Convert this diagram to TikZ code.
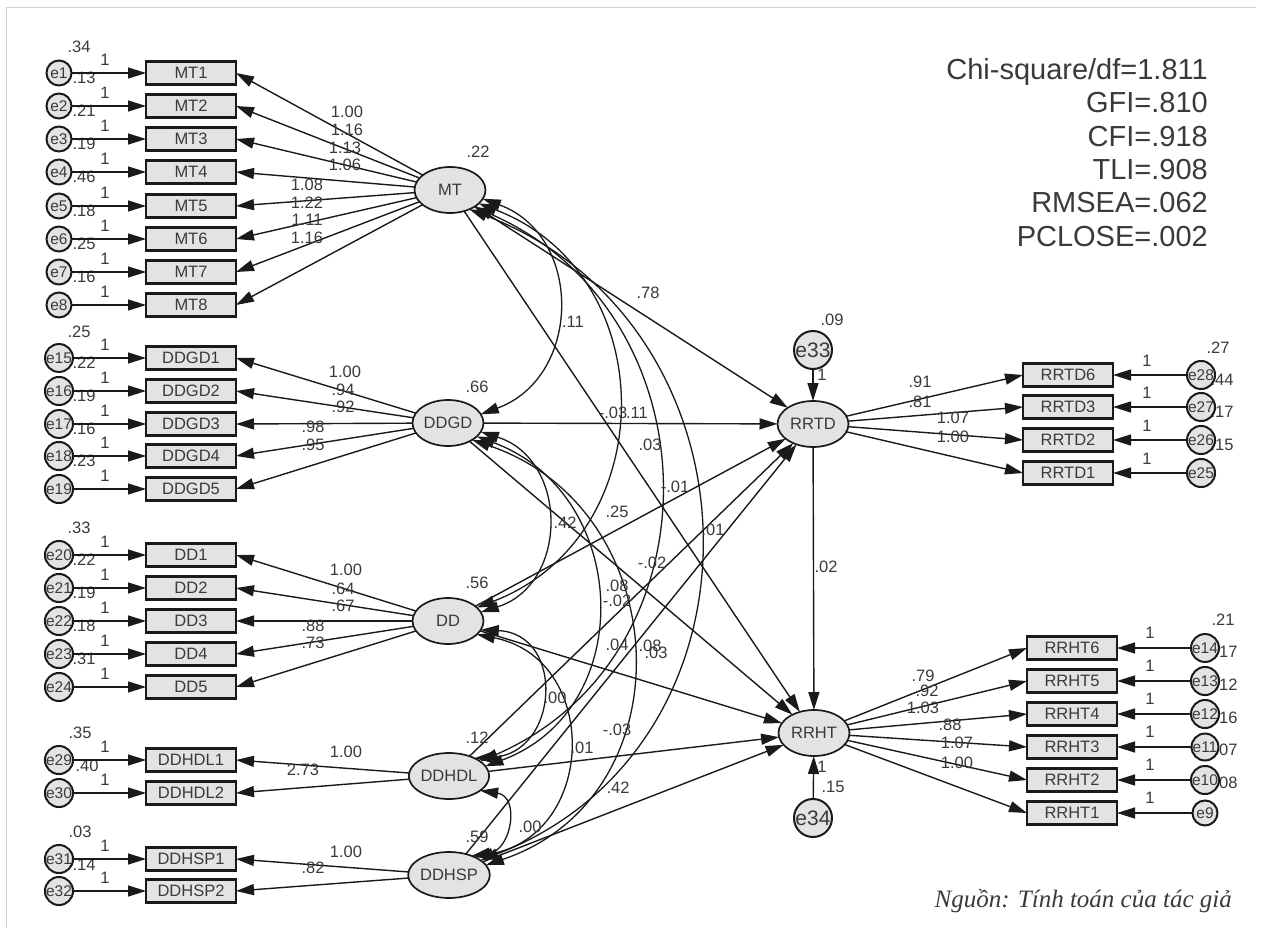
\documentclass[tikz,border=0pt]{standalone}
\usepackage{fontspec}
\setmainfont{Liberation Sans}
\newfontfamily\capfont{Liberation Serif}
\usetikzlibrary{arrows.meta,shapes.geometric}
\definecolor{ink}{HTML}{1A1A1A}
\definecolor{txt}{HTML}{3A3A3A}
\definecolor{boxfill}{HTML}{E3E3E3}
\definecolor{framegray}{HTML}{CFCFCF}
\tikzset{
  >={Triangle[length=18pt,width=11pt]},
  arr/.style={draw=ink, line width=1.4pt, ->},
  cov/.style={draw=ink, line width=1.3pt, <->},
  obs/.style={draw=ink, line width=2.2pt, fill=boxfill, minimum width=90pt,
    minimum height=23pt, inner sep=0pt, outer sep=0pt, text=txt,
    font=\fontsize{16.5}{16.5}\selectfont},
  lat/.style={ellipse, draw=ink, line width=1.7pt, fill=boxfill,
    minimum width=71pt, minimum height=46pt, inner sep=0pt, outer sep=0pt,
    text=txt, font=\fontsize{16.5}{16.5}\selectfont},
  err/.style={circle, draw=ink, line width=2pt, fill=boxfill,
    minimum size=25pt, inner sep=0pt, outer sep=0pt, text=txt,
    font=\fontsize{15.5}{15.5}\selectfont},
  bigerr/.style={err, minimum size=34pt, font=\fontsize{21}{21}\selectfont},
  num/.style={text=txt, font=\fontsize{16.5}{16.5}\selectfont, inner sep=0pt},
  fit/.style={text=txt, font=\fontsize{29}{29}\selectfont, inner sep=0pt, anchor=base east},
}
\begin{document}
\begin{tikzpicture}[x=1pt, y=-1pt]
\useasboundingbox (0,0) rectangle (1267,928);
\fill[white] (0,0) rectangle (1267,928);
\draw[framegray, line width=1pt] (6,940) -- (6,8) -- (1256,8);

% ---------- latent variables ----------
\node[lat] (MT)    at (450,190) {MT};
\node[lat] (DDGD)  at (448,423) {DDGD};
\node[lat] (DD)    at (448,621) {DD};
\node[lat] (DDHDL) at (449,776) {DDHDL};
\node[lat] (DDHSP) at (449,875) {DDHSP};
\node[lat] (RRTD)  at (813,424) {RRTD};
\node[lat] (RRHT)  at (814,733) {RRHT};

% ---------- error variances (drawn beneath the error circles) ----------
\node[num] at (79,47) {.34};
\foreach \v/\yy in {.13/78,.21/111,.19/144,.46/177,.18/211,.25/244,.16/277}
  \node[num] at (84,\yy) {\v};
\node[num] at (79,332) {.25};
\foreach \v/\yy in {.22/363,.19/396,.16/429,.23/461}
  \node[num] at (84,\yy) {\v};
\node[num] at (79,528) {.33};
\foreach \v/\yy in {.22/560,.19/593,.18/626,.31/659}
  \node[num] at (84,\yy) {\v};
\node[num] at (80,733) {.35};
\node[num] at (87,766) {.40};
\node[num] at (80,832) {.03};
\node[num] at (84,865) {.14};
\node[num] at (1218,348) {.27};
\foreach \v/\yy in {.44/380,.17/412,.15/445}
  \node[num] at (1222,\yy) {\v};
\node[num] at (1223,620) {.21};
\foreach \v/\yy in {.17/652,.12/685,.16/718,.07/750,.08/783}
  \node[num] at (1226,\yy) {\v};

% ---------- indicators of the exogenous factors ----------
\foreach \i/\yy in {1/73,2/106,3/139,4/172,5/206,6/239,7/272,8/305}{
  \node[obs] (MT\i) at (191,\yy) {MT\i};
  \node[err] (e\i) at (59,\yy) {e\i};
  \draw[arr] (e\i) -- (MT\i);
  \draw[arr] (MT) -- (MT\i.east);
  \node[num] at (105,\yy-13) {1};
}
\foreach \i/\e/\yy in {1/15/358,2/16/391,3/17/424,4/18/456,5/19/489}{
  \node[obs] (DDGD\i) at (191,\yy) {DDGD\i};
  \node[err] (e\e) at (59,\yy) {e\e};
  \draw[arr] (e\e) -- (DDGD\i);
  \draw[arr] (DDGD) -- (DDGD\i.east);
  \node[num] at (105,\yy-13) {1};
}
\foreach \i/\e/\yy in {1/20/555,2/21/588,3/22/621,4/23/654,5/24/687}{
  \node[obs] (DD\i) at (191,\yy) {DD\i};
  \node[err] (e\e) at (59,\yy) {e\e};
  \draw[arr] (e\e) -- (DD\i);
  \draw[arr] (DD) -- (DD\i.east);
  \node[num] at (105,\yy-13) {1};
}
\foreach \i/\e/\yy in {1/29/760,2/30/793}{
  \node[obs] (DDHDL\i) at (191,\yy) {DDHDL\i};
  \node[err] (e\e) at (59,\yy) {e\e};
  \draw[arr] (e\e) -- (DDHDL\i);
  \draw[arr] (DDHDL) -- (DDHDL\i.east);
  \node[num] at (105,\yy-13) {1};
}
\foreach \i/\e/\yy in {1/31/859,2/32/891}{
  \node[obs] (DDHSP\i) at (191,\yy) {DDHSP\i};
  \node[err] (e\e) at (59,\yy) {e\e};
  \draw[arr] (e\e) -- (DDHSP\i);
  \draw[arr] (DDHSP) -- (DDHSP\i.east);
  \node[num] at (105,\yy-13) {1};
}

% ---------- indicators of the endogenous factors ----------
\foreach \i/\e/\yy in {6/28/375,3/27/407,2/26/440,1/25/473}{
  \node[obs] (RRTD\i) at (1068,\yy) {RRTD\i};
  \node[err] (e\e) at (1201,\yy) {e\e};
  \draw[arr] (e\e) -- (RRTD\i);
  \draw[arr] (RRTD) -- (RRTD\i.west);
  \node[num] at (1147,\yy-14) {1};
}
\foreach \i/\e/\yy in {6/14/648,5/13/681,4/12/714,3/11/747,2/10/780,1/9/813}{
  \node[obs] (RRHT\i) at (1072,\yy) {RRHT\i};
  \node[err] (e\e) at (1205,\yy) {e\e};
  \draw[arr] (e\e) -- (RRHT\i);
  \draw[arr] (RRHT) -- (RRHT\i.west);
  \node[num] at (1150,\yy-15) {1};
}

% ---------- disturbances ----------
\node[bigerr] (e33) at (813,350) {e33};
\node[bigerr] (e34) at (813,818) {e34};
\draw[arr] (e33) -- (RRTD);
\draw[arr] (e34) -- (RRHT);
\node[num] at (832,320) {.09};
\node[num] at (822,375) {1};
\node[num] at (822,767) {1};
\node[num] at (833,787) {.15};

% ---------- structural paths ----------
\foreach \s in {MT,DDGD,DD,DDHDL,DDHSP}{
  \draw[arr] (\s) -- (RRTD);
  \draw[arr] (\s) -- (RRHT);
}
\draw[arr] (RRTD) -- (RRHT);

% ---------- covariances ----------
\draw[cov] (MT.-15) .. controls +(101,37) and +(101,-37) .. (DDGD.15);
\draw[cov] (MT.-25) .. controls +(186,71) and +(186,-71) .. (DD.25);
\draw[cov] (MT.-35) .. controls +(243,106) and +(243,-106) .. (DDHDL.25);
\draw[cov] (MT.-45) .. controls +(299,115) and +(299,-115) .. (DDHSP.25);
\draw[cov] (DDGD.-15) .. controls +(88,28) and +(88,-28) .. (DD.15);
\draw[cov] (DDGD.-25) .. controls +(154,57) and +(154,-57) .. (DDHDL.15);
\draw[cov] (DDGD.-35) .. controls +(204,69) and +(204,-69) .. (DDHSP.15);
\draw[cov] (DD.-15) .. controls +(85,4) and +(85,-4) .. (DDHDL.35);
\draw[cov] (DD.-25) .. controls +(123,24) and +(123,-24) .. (DDHSP.35);
\draw[cov] (DDHDL.-25) .. controls +(40,6) and +(40,-6) .. (DDHSP.40);

% ---------- factor variances ----------
\node[num] at (478,152) {.22};
\node[num] at (477,387) {.66};
\node[num] at (477,583) {.56};
\node[num] at (477,738) {.12};
\node[num] at (477,837) {.59};

% ---------- loadings ----------
\node[num] at (347,112) {1.00};
\node[num] at (347,130) {1.16};
\node[num] at (345,148) {1.13};
\node[num] at (345,165) {1.06};
\node[num] at (307,185) {1.08};
\node[num] at (307,203) {1.22};
\node[num] at (307,220) {1.11};
\node[num] at (307,238) {1.16};
\node[num] at (345,372) {1.00};
\node[num] at (343,390) {.94};
\node[num] at (343,407) {.92};
\node[num] at (313,427) {.98};
\node[num] at (313,445) {.95};
\node[num] at (346,570) {1.00};
\node[num] at (343,589) {.64};
\node[num] at (343,606) {.67};
\node[num] at (313,626) {.88};
\node[num] at (313,643) {.73};
\node[num] at (346,752) {1.00};
\node[num] at (303,770) {2.73};
\node[num] at (346,852) {1.00};
\node[num] at (313,868) {.82};
\node[num] at (920,382) {.91};
\node[num] at (920,402) {.81};
\node[num] at (953,418) {1.07};
\node[num] at (953,437) {1.00};
\node[num] at (923,676) {.79};
\node[num] at (927,691) {.92};
\node[num] at (923,708) {1.03};
\node[num] at (950,725) {.88};
\node[num] at (957,743) {1.07};
\node[num] at (957,763) {1.00};

% ---------- path and covariance estimates ----------
\node[num] at (648,293) {.78};
\node[num] at (573,322) {.11};
\node[num] at (613,413) {-.03};
\node[num] at (637,413) {.11};
\node[num] at (650,445) {.03};
\node[num] at (675,487) {-.01};
\node[num] at (617,512) {.25};
\node[num] at (565,523) {.42};
\node[num] at (713,530) {.01};
\node[num] at (652,563) {-.02};
\node[num] at (617,586) {.08};
\node[num] at (617,601) {-.02};
\node[num] at (617,645) {.04};
\node[num] at (650,646) {.08};
\node[num] at (656,653) {.03};
\node[num] at (555,698) {.00};
\node[num] at (617,730) {-.03};
\node[num] at (582,748) {.01};
\node[num] at (618,788) {.42};
\node[num] at (530,827) {.00};
\node[num] at (826,567) {.02};

% ---------- fit indices ----------
\node[fit] at (1208,80)  {Chi-square/df=1.811};
\node[fit] at (1208,113) {GFI=.810};
\node[fit] at (1208,147) {CFI=.918};
\node[fit] at (1208,180) {TLI=.908};
\node[fit] at (1208,213) {RMSEA=.062};
\node[fit] at (1208,247) {PCLOSE=.002};

\node[text=txt, font=\capfont\itshape\fontsize{25}{25}\selectfont, inner sep=0pt, anchor=base east]
  at (1232,907) {Nguồn: Tính toán của tác giả};
\end{tikzpicture}
\end{document}
